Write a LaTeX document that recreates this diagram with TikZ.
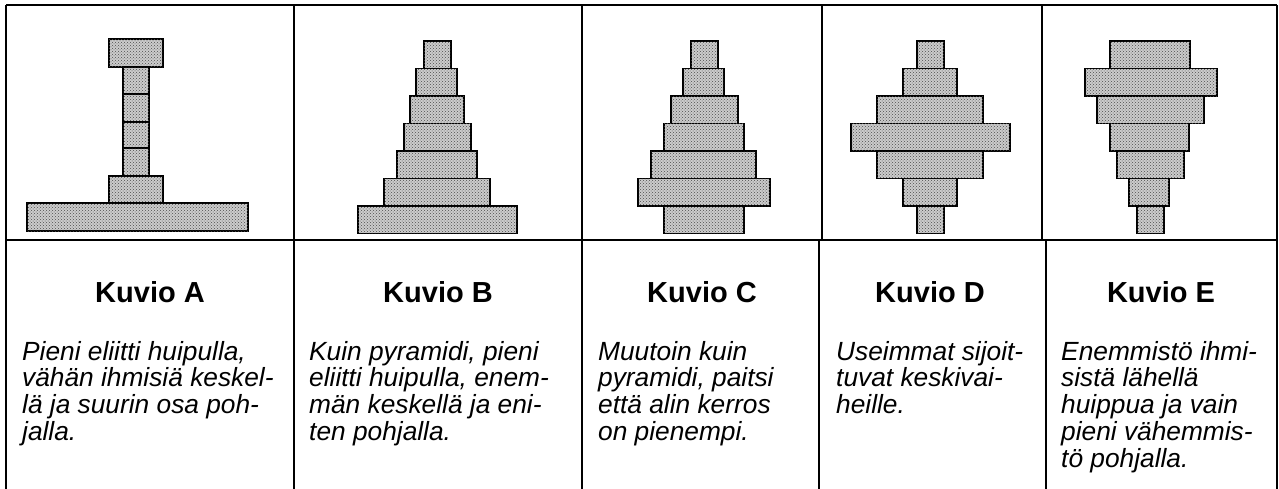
\documentclass[tikz,border=0pt]{standalone}
\usepackage{fontspec}
\setmainfont{Liberation Sans}
\usetikzlibrary{patterns}

\tikzset{
  blok/.style={draw=black, line width=1.9pt, fill=gray!40,
    postaction={pattern=crosshatch dots, pattern color=black!70}},
  rivi/.style={line width=2.4pt},
  otsikko/.style={font=\fontsize{29}{33}\selectfont\bfseries, anchor=base, inner sep=0pt},
  selite/.style={font=\fontsize{26.3}{26.7}\selectfont\itshape, anchor=north west, align=left, inner sep=0pt}
}

\begin{document}
\begin{tikzpicture}[x=1pt, y=-1pt]
    \useasboundingbox (0,0) rectangle (1279,488);

    % Kuvio A: hattu, varsi ja leveä pohja
    \foreach \xa/\ya/\xb/\yb in {109/39/163/67, 123/67/149/94, 123/94/149/122, 123/122/149/148,
        123/148/149/176, 109/176/163/203, 27/203/248/231}
        \draw[blok] (\xa,\ya) rectangle (\xb,\yb);

    % Kuviot B-E: seitsemän kerrosta, ylhäältä alas
    \foreach \r/\xa/\xb in {1/424/451, 2/416/457, 3/410/464, 4/404/471, 5/397/477, 6/384/490, 7/358/517}
        \draw[blok] (\xa,{41+27.5*(\r-1)}) rectangle (\xb,{41+27.5*\r});
    \foreach \r/\xa/\xb in {1/691/718, 2/683/724, 3/671/738, 4/664/744, 5/651/756, 6/638/770, 7/664/744}
        \draw[blok] (\xa,{41+27.5*(\r-1)}) rectangle (\xb,{41+27.5*\r});
    \foreach \r/\xa/\xb in {1/917/944, 2/903/957, 3/877/983, 4/851/1010, 5/877/983, 6/903/957, 7/917/944}
        \draw[blok] (\xa,{41+27.5*(\r-1)}) rectangle (\xb,{41+27.5*\r});
    \foreach \r/\xa/\xb in {1/1110/1190, 2/1085/1217, 3/1097/1204, 4/1110/1189, 5/1117/1184, 6/1129/1169, 7/1137/1164}
        \draw[blok] (\xa,{41+27.5*(\r-1)}) rectangle (\xb,{41+27.5*\r});

    % Taulukon viivat
    \draw[rivi] (6,5) -- (1277,5);
    \draw[rivi] (6,240) -- (1277,240);
    \foreach \x in {6, 294, 582, 1277}
        \draw[rivi] (\x,5) -- (\x,490);
    \draw[rivi] (822,5) -- (822,240);
    \draw[rivi] (1042,5) -- (1042,240);
    \draw[rivi] (819,240) -- (819,490);
    \draw[rivi] (1046,240) -- (1046,490);

    % Otsikot
    \node[otsikko] (kuvioA) at (150,302) {Kuvio A};
    \node[otsikko] (kuvioB) at (438,302) {Kuvio B};
    \node[otsikko] (kuvioC) at (702,302) {Kuvio C};
    \node[otsikko] (kuvioD) at (930,302) {Kuvio D};
    \node[otsikko] (kuvioE) at (1161,302) {Kuvio E};

    % Selitykset
    \node[selite] (seliteA) at (22,341) {Pieni eliitti huipulla,\\vähän ihmisiä keskel-\\lä ja suurin osa poh-\\jalla.};
    \node[selite] (seliteB) at (309,341) {Kuin pyramidi, pieni\\eliitti huipulla, enem-\\män keskellä ja eni-\\ten pohjalla.};
    \node[selite] (seliteC) at (598,341) {Muutoin kuin\\pyramidi, paitsi\\että alin kerros\\on pienempi.};
    \node[selite] (seliteD) at (836,341) {Useimmat sijoit-\\tuvat keskivai-\\heille.};
    \node[selite] (seliteE) at (1061,341) {Enemmistö ihmi-\\sistä lähellä\\huippua ja vain\\pieni vähemmis-\\tö pohjalla.};
\end{tikzpicture}
\end{document}
